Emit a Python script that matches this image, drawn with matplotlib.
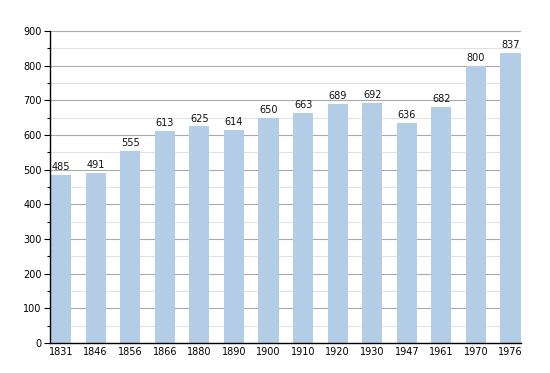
import matplotlib.pyplot as plt
from matplotlib.ticker import MultipleLocator

years = ["1831", "1846", "1856", "1866", "1880", "1890", "1900",
         "1910", "1920", "1930", "1947", "1961", "1970", "1976"]
population = [485, 491, 555, 613, 625, 614, 650, 663, 689, 692, 636, 682, 800, 837]

fig = plt.figure(figsize=(5.5, 3.73), dpi=100)
ax = fig.add_axes([0.091, 0.080, 0.856, 0.837])

x = range(len(years))
bars = ax.bar(x, population, width=0.58, color="#b3cde6", zorder=2)
for xi, v in zip(x, population):
    ax.text(xi, v + 8, str(v), ha="center", va="bottom", fontsize=7, color="#111111")

ax.set_ylim(0, 900)
ax.set_xlim(-0.32, 13.3)
ax.yaxis.set_major_locator(MultipleLocator(100))
ax.yaxis.set_minor_locator(MultipleLocator(50))
ax.grid(axis="y", which="major", color="#aaaaaa", linewidth=0.8, zorder=0)
ax.grid(axis="y", which="minor", color="#e2e2e2", linewidth=0.8, zorder=0)
ax.set_axisbelow(True)

ax.set_xticks(list(x))
ax.set_xticklabels(years)
ax.tick_params(axis="x", length=0, labelsize=7, pad=3)
ax.tick_params(axis="y", which="major", length=4, width=0.8, labelsize=7, pad=2)
ax.tick_params(axis="y", which="minor", length=2, width=0.8)

for s in ["top", "right"]:
    ax.spines[s].set_visible(False)
ax.spines["left"].set_linewidth(1)
ax.spines["bottom"].set_linewidth(1)

fig.savefig("out.png", dpi=100)
